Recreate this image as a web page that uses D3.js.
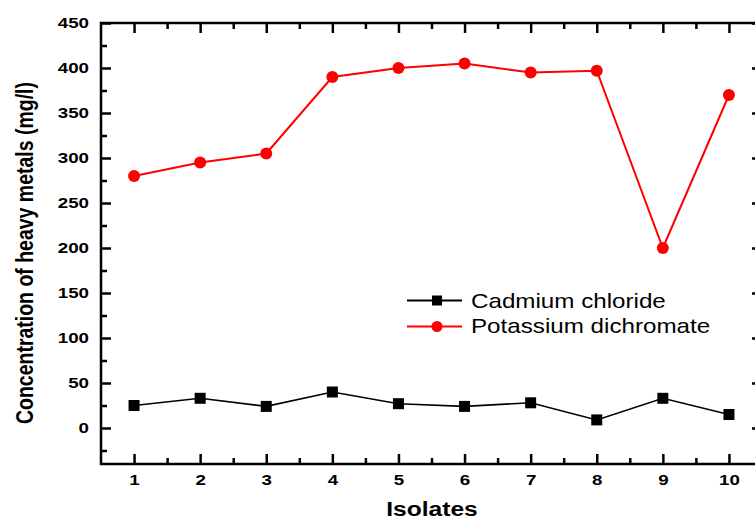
<!DOCTYPE html>
<html><head><meta charset="utf-8">
<script src="https://cdn.jsdelivr.net/npm/d3@7"></script>
<style>body{margin:0;background:#fff}svg{display:block}</style>
</head><body>
<svg id="c" width="755" height="520"></svg>
<script>
const isolates = [1,2,3,4,5,6,7,8,9,10];
const cadmium = [25,33,24,40,27,24,28,9,33,15];
const potassium = [280,295,305,390,400,405,395,397,200,370];
const yTicks = [0,50,100,150,200,250,300,350,400,450];
const seriesNames = ["Cadmium chloride","Potassium dichromate"];

const svg = d3.select("#c");
const L=101, R=762, T=23, B=464;
const x = d3.scaleLinear().domain([0.5,10.5]).range([L,R]);
const y = d3.scaleLinear().domain([-40,450]).range([B,T]);
const font = "Arial, 'Liberation Sans', sans-serif";
const SX = 1.25; // horizontal stretch of text in reference

const xMinor = d3.range(1.5,10.5,1);
const yMinor = d3.range(-25,450,50);
function axisStyle(g){ g.select(".domain").remove(); g.selectAll("line").attr("stroke","#000").attr("stroke-width",2.5);
  g.selectAll("text").attr("font-family",font).attr("font-weight","bold").attr("font-size",15).attr("fill","#000"); }

// bottom
svg.append("g").attr("transform",`translate(0,${B})`).call(d3.axisBottom(x).tickValues(isolates).tickSizeInner(-10).tickSizeOuter(0).tickPadding(10.5).tickFormat(d3.format("d"))).call(axisStyle)
  .selectAll("text").attr("transform",`scale(${SX},1)`);
svg.append("g").attr("transform",`translate(0,${B})`).call(d3.axisBottom(x).tickValues(xMinor).tickSizeInner(-6).tickSizeOuter(0).tickFormat("")).call(axisStyle);
// top
svg.append("g").attr("transform",`translate(0,${T})`).call(d3.axisTop(x).tickValues(isolates).tickSizeInner(-10).tickSizeOuter(0).tickFormat("")).call(axisStyle);
svg.append("g").attr("transform",`translate(0,${T})`).call(d3.axisTop(x).tickValues(xMinor).tickSizeInner(-6).tickSizeOuter(0).tickFormat("")).call(axisStyle);
// left
svg.append("g").attr("transform",`translate(${L},0)`).call(d3.axisLeft(y).tickValues(yTicks).tickSizeInner(-10).tickSizeOuter(0).tickFormat(d3.format("d"))).call(axisStyle)
  .selectAll("text").attr("x",-12/SX).attr("transform",`scale(${SX},1)`);
svg.append("g").attr("transform",`translate(${L},0)`).call(d3.axisLeft(y).tickValues(yMinor).tickSizeInner(-6).tickSizeOuter(0).tickFormat("")).call(axisStyle);
// right
svg.append("g").attr("transform",`translate(${R},0)`).call(d3.axisRight(y).tickValues(yTicks).tickSizeInner(-10).tickSizeOuter(0).tickFormat("")).call(axisStyle);
svg.append("g").attr("transform",`translate(${R},0)`).call(d3.axisRight(y).tickValues(yMinor).tickSizeInner(-6).tickSizeOuter(0).tickFormat("")).call(axisStyle);

// frame
svg.append("rect").attr("x",L).attr("y",T).attr("width",R-L).attr("height",B-T).attr("fill","none").attr("stroke","#000").attr("stroke-width",2.5);

const line = d3.line().x((d,i)=>x(isolates[i])).y(d=>y(d));
svg.append("path").datum(potassium).attr("d",line).attr("fill","none").attr("stroke","#f00").attr("stroke-width",2);
svg.append("path").datum(cadmium).attr("d",line).attr("fill","none").attr("stroke","#000").attr("stroke-width",1.6);

svg.append("g").selectAll("circle").data(potassium).join("circle")
  .attr("cx",(d,i)=>x(isolates[i])).attr("cy",d=>y(d)).attr("r",6).attr("fill","#f00");
svg.append("g").selectAll("rect").data(cadmium).join("rect")
  .attr("x",(d,i)=>x(isolates[i])-5.5).attr("y",d=>y(d)-5.5).attr("width",11).attr("height",11).attr("fill","#000");

// legend
const lg = svg.append("g");
[[seriesNames[0],"#000","sq",300.5,308],[seriesNames[1],"#f00","ci",326.5,333]].forEach(([name,col,m,yy,tb])=>{
  lg.append("line").attr("x1",407).attr("x2",462).attr("y1",yy).attr("y2",yy).attr("stroke",col).attr("stroke-width",2);
  if(m==="sq") lg.append("rect").attr("x",432).attr("y",yy-5).attr("width",10).attr("height",10).attr("fill",col);
  else lg.append("circle").attr("cx",437).attr("cy",yy).attr("r",5.5).attr("fill",col);
  lg.append("text").attr("transform",`translate(471,${tb}) scale(1.18,1)`).attr("font-family",font).attr("font-size",20.5).attr("fill","#000").text(name);
});

// titles
svg.append("text").attr("transform",`translate(432,516) scale(1.23,1)`).attr("text-anchor","middle").attr("font-family",font).attr("font-weight","bold").attr("font-size",20).text("Isolates");
svg.append("text").attr("transform",`translate(33,253) scale(1.2,1) rotate(-90)`).attr("text-anchor","middle").attr("font-family",font).attr("font-weight","bold").attr("font-size",19.5).text("Concentration of heavy metals (mg/l)");
</script>
</body></html>
